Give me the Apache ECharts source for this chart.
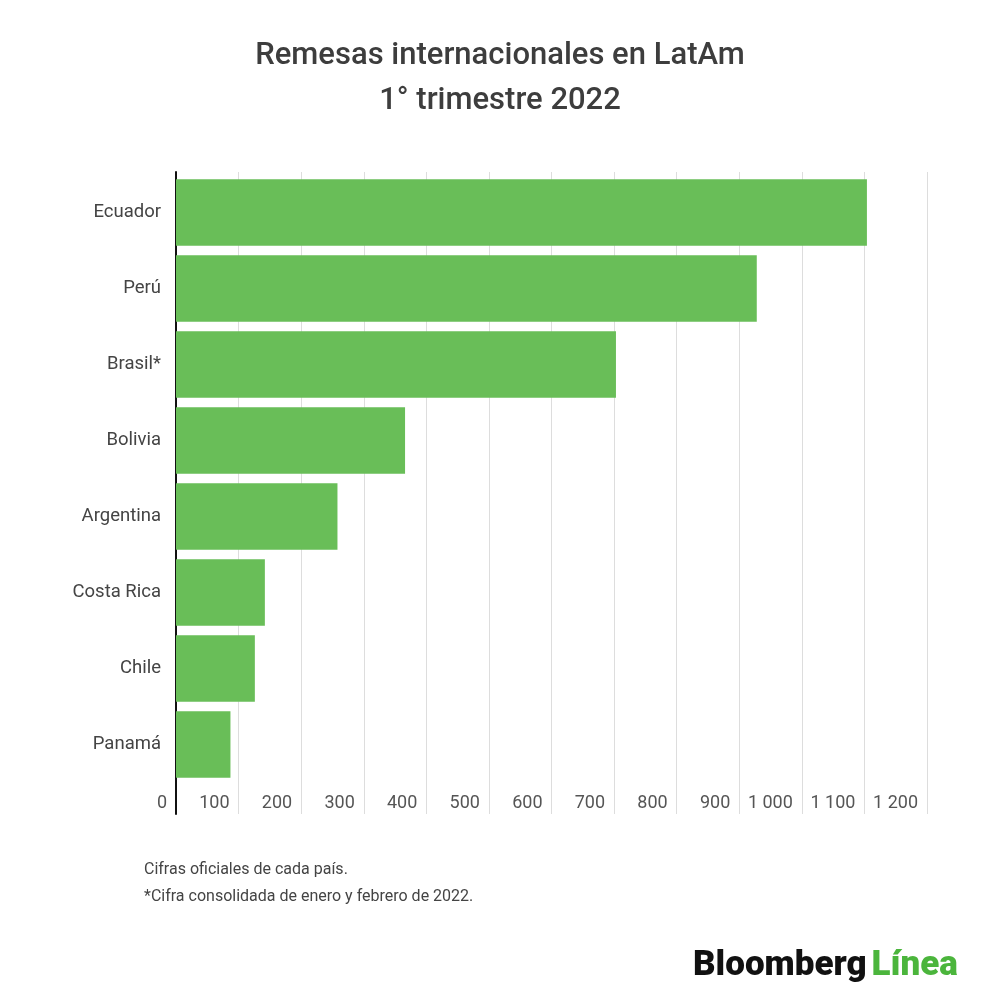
<!DOCTYPE html>
<html>
<head>
<meta charset="utf-8">
<script src="https://cdn.jsdelivr.net/npm/echarts@6/dist/echarts.min.js"></script>
<style>
html,body{margin:0;padding:0;background:#fff;}
#main{width:1000px;height:1008px;}
</style>
</head>
<body>
<div id="main"></div>
<script>
var categories = ['Ecuador', 'Perú', 'Brasil*', 'Bolivia', 'Argentina', 'Costa Rica', 'Chile', 'Panamá'];
var values = [1104, 928, 703, 366, 258, 142, 126, 87];
var tickLabels = ['0', '100', '200', '300', '400', '500', '600', '700', '800', '900', '1 000', '1 100', '1 200'];
var titleLines = ['Remesas internacionales en LatAm', '1° trimestre 2022'];
var notes = ['Cifras oficiales de cada país.', '*Cifra consolidada de enero y febrero de 2022.'];

var chart = echarts.init(document.getElementById('main'), null, {renderer: 'canvas'});
var FONT = 'Roboto';
var titleStyle = {fontFamily: FONT, fontSize: 31, fontWeight: 500, color: '#3d3d3d'};
var option = {
  backgroundColor: '#fff',
  animation: false,
  title: [{
    text: titleLines[0], left: 'center', top: 56, padding: 0,
    textVerticalAlign: 'middle', textStyle: titleStyle
  }, {
    text: titleLines[1], left: 'center', top: 101, padding: 0,
    textVerticalAlign: 'middle', textStyle: titleStyle
  }, {
    text: notes.join('\n'),
    left: 144, top: 856.5, padding: 0,
    textStyle: {fontFamily: FONT, fontSize: 16, fontWeight: 'normal', color: '#444', lineHeight: 27}
  }, {
    text: '{b|Bloomberg} {g|Línea}',
    left: 693, top: 949, padding: 0,
    textStyle: {
      rich: {
        b: {fontFamily: FONT, fontSize: 35, fontWeight: 900, color: '#111'},
        g: {fontFamily: FONT, fontSize: 35, fontWeight: 900, color: '#4bb53c'}
      }
    }
  }],
  grid: [
    {left: 176, right: 73, top: 174.5, height: 608, containLabel: false},
    {left: 176, right: 73, top: 172, height: 642, containLabel: false}
  ],
  xAxis: [{
    gridIndex: 0, type: 'value', min: 0, max: 1200, interval: 100,
    axisLine: {show: false}, axisTick: {show: false}, axisLabel: {show: false}, splitLine: {show: false}
  }, {
    gridIndex: 1, type: 'value', min: 0, max: 1200, interval: 100,
    axisLine: {show: false}, axisTick: {show: false},
    splitLine: {show: true, lineStyle: {color: '#dddddd', width: 1}},
    axisLabel: {
      inside: true, margin: 11, verticalAlign: 'middle', align: 'right',
      padding: [0, 9, 0, 0],
      fontFamily: FONT, fontSize: 18, color: '#555',
      formatter: function (v) { return tickLabels[Math.round(v / 100)]; }
    }
  }],
  yAxis: [{
    gridIndex: 0, type: 'category', data: categories, inverse: true,
    axisLine: {show: false}, axisTick: {show: false},
    axisLabel: {margin: 15, fontFamily: FONT, fontSize: 18.5, color: '#444'}
  }, {
    gridIndex: 1, type: 'value', min: 0, max: 1,
    axisLine: {show: true, lineStyle: {color: '#111', width: 2}},
    axisTick: {show: false}, axisLabel: {show: false}, splitLine: {show: false}
  }],
  series: [{
    type: 'bar', xAxisIndex: 0, yAxisIndex: 0,
    data: values,
    barCategoryGap: '12.5%',
    itemStyle: {color: '#69be58'},
    z: 3
  }]
};
chart.setOption(option);
</script>
</body>
</html>
